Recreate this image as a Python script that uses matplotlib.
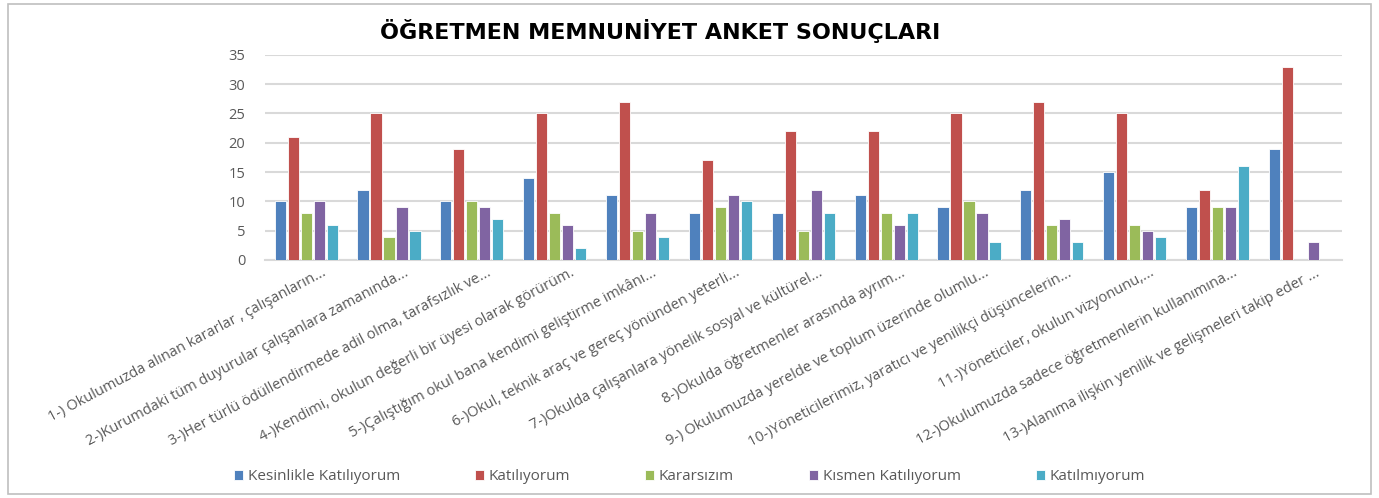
import matplotlib.pyplot as plt
import matplotlib.patches as patches
import numpy as np

plt.rcParams['font.family'] = ['Open Sans', 'DejaVu Sans']

questions = [
    "1-) Okulumuzda alınan kararlar , çalışanların...",
    "2-)Kurumdaki tüm duyurular çalışanlara zamanında...",
    "3-)Her türlü ödüllendirmede adil olma, tarafsızlık ve...",
    "4-)Kendimi, okulun değerli bir üyesi olarak görürüm.",
    "5-)Çalıştığım okul bana kendimi geliştirme imkânı...",
    "6-)Okul, teknik araç ve gereç yönünden yeterli...",
    "7-)Okulda çalışanlara yönelik sosyal ve kültürel...",
    "8-)Okulda öğretmenler arasında ayrım...",
    "9-) Okulumuzda yerelde ve toplum üzerinde olumlu...",
    "10-)Yöneticilerimiz, yaratıcı ve yenilikçi düşüncelerin...",
    "11-)Yöneticiler, okulun vizyonunu,...",
    "12-)Okulumuzda sadece öğretmenlerin kullanımına...",
    "13-)Alanıma ilişkin yenilik ve gelişmeleri takip eder ...",
]

series_names = ["Kesinlikle Katılıyorum", "Katılıyorum", "Kararsızım",
                "Kısmen Katılıyorum", "Katılmıyorum"]

kesinlikle = [10, 12, 10, 14, 11, 8, 8, 11, 9, 12, 15, 9, 19]
katiliyorum = [21, 25, 19, 25, 27, 17, 22, 22, 25, 27, 25, 12, 33]
kararsizim = [8, 4, 10, 8, 5, 9, 5, 8, 10, 6, 6, 9, 0]
kismen = [10, 9, 9, 6, 8, 11, 12, 6, 8, 7, 5, 9, 3]
katilmiyorum = [6, 5, 7, 2, 4, 10, 8, 8, 3, 3, 4, 16, 0]

colors = ['#4F81BD', '#C0504D', '#9BBB59', '#8064A2', '#4BACC6']

fig = plt.figure(figsize=(13.79, 4.98), dpi=100)
ax = fig.add_axes([0.192, 0.478, 0.781, 0.412])

# grey frame round the whole chart
fig.patches.append(patches.Rectangle((0.006, 0.008), 0.988, 0.984, transform=fig.transFigure,
                                     fill=False, edgecolor='#BFBFBF', linewidth=1.2))

x = np.arange(len(questions))
slot = 0.157
width = 0.135
all_series = [kesinlikle, katiliyorum, kararsizim, kismen, katilmiyorum]
for i, (vals, name) in enumerate(zip(all_series, series_names)):
    ax.bar(x + (i - 2) * slot, vals, width, color=colors[i], label=name,
           edgecolor='white', linewidth=0.6, zorder=3)

ax.set_ylim(0, 35)
ax.set_yticks(range(0, 36, 5))
ax.set_xlim(-0.5, len(questions) - 0.5)
ax.grid(axis='y', color='#D9D9D9', linewidth=1.5, zorder=0)
for side in ['top', 'right', 'left']:
    ax.spines[side].set_visible(False)
ax.spines['bottom'].set_color('#D9D9D9')
ax.spines['bottom'].set_linewidth(1.5)
ax.tick_params(axis='y', length=0, labelsize=10.5, labelcolor='#595959', pad=14)
ax.tick_params(axis='x', length=0, labelsize=10.5, labelcolor='#595959', pad=4)

ax.set_xticks(x + 0.18)
ax.set_xticklabels(questions, rotation=28, ha='right', rotation_mode='anchor')

fig.text(0.479, 0.938, "ÖĞRETMEN MEMNUNİYET ANKET SONUÇLARI", ha='center', va='center',
         fontsize=16, fontweight='bold', family='DejaVu Sans', color='black')

fig.legend(loc='center', bbox_to_anchor=(0.5, 0.043), ncol=5, frameon=False,
           fontsize=11, handlelength=0.6, handleheight=0.6, handletextpad=0.3,
           columnspacing=4.9, labelcolor='#595959')

fig.savefig('out.png', dpi=100)
